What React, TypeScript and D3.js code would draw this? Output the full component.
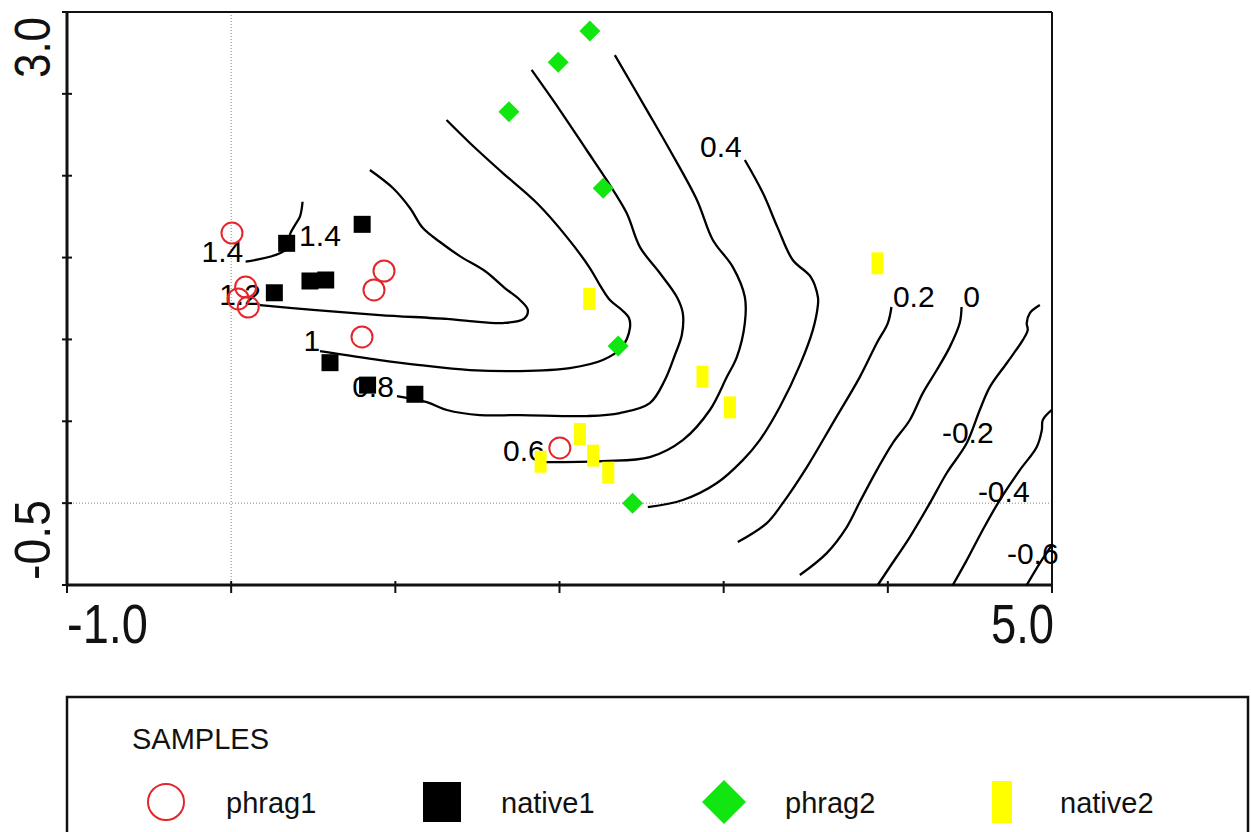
import React, { useEffect, useRef } from "react";
import * as d3 from "d3";

const width = 1251;
const height = 832;
const font = "'Liberation Sans', Arial, Helvetica, sans-serif";

// sample scores [axis1, axis2]
const phrag1 = [
  [0.005, 1.65], [0.088, 1.32], [0.043, 1.247], [0.104, 1.198],
  [0.931, 1.418], [0.87, 1.302], [0.797, 1.015], [2.002, 0.337],
];
const native1 = [
  [0.338, 1.587], [0.798, 1.703], [0.263, 1.285], [0.48, 1.357],
  [0.576, 1.363], [0.602, 0.858], [0.831, 0.721], [1.119, 0.665],
];
const phrag2 = [
  [2.185, 2.884], [1.992, 2.693], [1.692, 2.391], [2.266, 1.923],
  [2.357, 0.96], [2.445, -0.001],
];
const native2 = [
  [2.181, 1.247], [2.871, 0.772], [3.038, 0.585], [2.124, 0.422],
  [2.205, 0.29], [2.297, 0.186], [1.885, 0.253], [3.937, 1.465],
];

// isolines (traced)
const iso14 = [[0.088, 1.475], [0.297, 1.526], [0.368, 1.587], [0.358, 1.638], [0.389, 1.699], [0.419, 1.75], [0.435, 1.841]];
const iso12 = [
  [0.845, 2.035], [0.985, 1.925], [1.089, 1.803], [1.168, 1.68], [1.272, 1.595], [1.393, 1.509],
  [1.546, 1.418], [1.667, 1.314], [1.759, 1.241], [1.807, 1.18], [1.783, 1.125], [1.655, 1.1],
  [1.454, 1.112], [1.314, 1.125], [0.906, 1.149], [0.498, 1.18], [0.175, 1.21],
];
const iso10 = [
  [1.312, 2.34], [1.454, 2.2], [1.655, 2.016], [1.862, 1.833], [2.045, 1.625], [2.185, 1.436],
  [2.246, 1.332], [2.307, 1.241], [2.38, 1.18], [2.423, 1.131], [2.429, 1.07], [2.38, 0.953],
  [2.264, 0.874], [2.063, 0.825], [1.759, 0.807], [1.454, 0.813], [1.15, 0.843], [0.906, 0.874], [0.541, 0.929],
];
const iso08 = [
  [1.83, 2.646], [2.002, 2.401], [2.165, 2.157], [2.287, 1.974], [2.409, 1.772], [2.49, 1.564],
  [2.611, 1.406], [2.715, 1.259], [2.751, 1.161], [2.745, 1.027], [2.703, 0.905], [2.642, 0.752],
  [2.55, 0.611], [2.368, 0.55], [2.167, 0.532], [1.759, 0.538], [1.515, 0.538], [1.314, 0.569],
  [1.192, 0.617], [1.01, 0.654],
];
const iso06 = [
  [2.337, 2.737], [2.532, 2.401], [2.672, 2.157], [2.837, 1.852], [2.934, 1.607], [3.056, 1.442],
  [3.129, 1.259], [3.129, 1.1], [3.08, 0.892], [3.019, 0.77], [2.916, 0.569], [2.751, 0.385],
  [2.55, 0.281], [2.264, 0.257], [1.911, 0.251],
];
const iso04 = [
  [3.129, 2.096], [3.239, 1.894], [3.33, 1.68], [3.421, 1.485], [3.531, 1.381], [3.574, 1.259],
  [3.574, 1.21], [3.543, 1.057], [3.464, 0.843], [3.342, 0.587], [3.22, 0.385], [3.117, 0.263],
  [2.959, 0.123], [2.751, 0.019], [2.538, -0.024],
];
const iso02 = [
  [4.022, 1.198], [4.0, 1.1], [3.933, 0.978], [3.829, 0.77], [3.665, 0.489], [3.507, 0.22],
  [3.36, 0.0], [3.263, -0.122], [3.086, -0.238],
];
const iso00 = [
  [4.449, 1.198], [4.438, 1.1], [4.377, 0.953], [4.298, 0.813], [4.213, 0.672], [4.134, 0.508],
  [4.03, 0.367], [3.933, 0.202], [3.829, 0.007], [3.75, -0.146], [3.628, -0.305], [3.464, -0.439],
];
const isoM02 = [
  [4.926, 1.21], [4.865, 1.161], [4.846, 1.1], [4.852, 1.057], [4.822, 0.996], [4.725, 0.856],
  [4.621, 0.709], [4.56, 0.569], [4.481, 0.367], [4.359, 0.184], [4.256, 0.0], [4.134, -0.207],
  [4.012, -0.39], [3.939, -0.5],
];
const isoM04 = [
  [4.999, 0.569], [4.944, 0.508], [4.938, 0.446], [4.907, 0.343], [4.804, 0.202], [4.682, 0.019],
  [4.578, -0.164], [4.481, -0.348], [4.396, -0.5],
];
const isoM06 = [[4.846, -0.5], [4.926, -0.366], [4.999, -0.256]];

const isolines = [iso14, iso12, iso10, iso08, iso06, iso04, iso02, iso00, isoM02, isoM04, isoM06];

// isoline labels [x, y, text]
const isoLabels: [number, number, string][] = [
  [-0.053, 1.536, "1.4"], [0.541, 1.638, "1.4"], [0.054, 1.277, "1.2"], [0.492, 0.996, "1"],
  [0.864, 0.715, "0.8"], [1.783, 0.321, "0.6"], [2.983, 2.181, "0.4"], [4.158, 1.265, "0.2"],
  [4.51, 1.265, "0"], [4.487, 0.431, "-0.2"], [4.706, 0.074, "-0.4"], [4.883, -0.305, "-0.6"],
];

const xTicks = [-1, 0, 1, 2, 3, 4, 5];
const yTicks = [-0.5, 0, 0.5, 1, 1.5, 2, 2.5, 3];
const legendNames = ["phrag1", "native1", "phrag2", "native2"];

const App = () => {
  const ref = useRef<SVGSVGElement>(null);

  useEffect(() => {
    const svg = d3.select(ref.current);
    svg.selectAll("*").remove();

    const x = d3.scaleLinear().domain([-1, 5]).range([67, 1052]);
    const y = d3.scaleLinear().domain([-0.5, 3.0]).range([585, 12]);

    // zero lines
    svg.append("line")
      .attr("x1", x(0)).attr("x2", x(0)).attr("y1", y(3)).attr("y2", y(-0.5))
      .attr("stroke", "#888").attr("stroke-width", 1).attr("stroke-dasharray", "1,2");
    svg.append("line")
      .attr("x1", x(-1)).attr("x2", x(5)).attr("y1", y(0)).attr("y2", y(0))
      .attr("stroke", "#888").attr("stroke-width", 1).attr("stroke-dasharray", "1,2");

    // frame
    svg.append("line").attr("x1", 62).attr("x2", x(5)).attr("y1", y(3)).attr("y2", y(3))
      .attr("stroke", "#111").attr("stroke-width", 2);
    svg.append("line").attr("x1", x(5)).attr("x2", x(5)).attr("y1", y(3)).attr("y2", y(-0.5))
      .attr("stroke", "#111").attr("stroke-width", 2);
    svg.append("line").attr("x1", x(-1)).attr("x2", x(-1)).attr("y1", y(3)).attr("y2", y(-0.5) + 1)
      .attr("stroke", "#111").attr("stroke-width", 3);
    svg.append("line").attr("x1", x(-1)).attr("x2", x(5) + 1).attr("y1", y(-0.5)).attr("y2", y(-0.5))
      .attr("stroke", "#111").attr("stroke-width", 3);

    // ticks
    svg.selectAll(".ytick").data(yTicks).join("line")
      .attr("x1", x(-1) - 5).attr("x2", x(-1) + 5)
      .attr("y1", (d) => y(d)).attr("y2", (d) => y(d))
      .attr("stroke", "#111").attr("stroke-width", 2);
    svg.selectAll(".xtick").data(xTicks).join("line")
      .attr("x1", (d) => x(d)).attr("x2", (d) => x(d))
      .attr("y1", y(-0.5) - 4).attr("y2", y(-0.5) + 8)
      .attr("stroke", "#111").attr("stroke-width", 2);

    // axis end labels
    const big = svg.append("g").style("font-family", font).attr("fill", "#111");
    big.append("text").attr("x", x(-1)).attr("y", 643).style("font-size", "55px")
      .attr("textLength", 81).attr("lengthAdjust", "spacingAndGlyphs").text("-1.0");
    big.append("text").attr("x", x(5) + 2).attr("y", 643).attr("text-anchor", "end").style("font-size", "55px")
      .attr("textLength", 63).attr("lengthAdjust", "spacingAndGlyphs").text("5.0");
    big.append("text").attr("transform", `translate(50, ${y(3) + 5}) rotate(-90)`)
      .attr("text-anchor", "end").style("font-size", "50px")
      .attr("textLength", 61).attr("lengthAdjust", "spacingAndGlyphs").text("3.0");
    big.append("text").attr("transform", `translate(50, ${y(-0.5) - 5}) rotate(-90)`)
      .style("font-size", "50px")
      .attr("textLength", 80).attr("lengthAdjust", "spacingAndGlyphs").text("-0.5");

    // isolines
    const line = d3.line<number[]>()
      .x((d) => x(d[0]))
      .y((d) => y(d[1]))
      .curve(d3.curveCatmullRom.alpha(0.5));
    svg.append("g").selectAll("path").data(isolines).join("path")
      .attr("d", (d) => line(d))
      .attr("fill", "none").attr("stroke", "#000").attr("stroke-width", 2.3);

    svg.append("g").selectAll("text").data(isoLabels).join("text")
      .attr("x", (d) => x(d[0])).attr("y", (d) => y(d[1]))
      .attr("dy", "0.36em").attr("text-anchor", "middle")
      .style("font-family", font).style("font-size", "30px").attr("fill", "#000")
      .text((d) => d[2]);

    // samples
    const pts = svg.append("g");
    pts.selectAll(".n2").data(native2).join("rect")
      .attr("x", (d) => x(d[0]) - 6).attr("y", (d) => y(d[1]) - 11)
      .attr("width", 12).attr("height", 22).attr("fill", "#ffff00");
    pts.selectAll(".n1").data(native1).join("rect")
      .attr("x", (d) => x(d[0]) - 8.5).attr("y", (d) => y(d[1]) - 8.5)
      .attr("width", 17).attr("height", 17).attr("fill", "#000");
    pts.selectAll(".p2").data(phrag2).join("path")
      .attr("d", (d) => {
        const cx = x(d[0]), cy = y(d[1]);
        return `M${cx},${cy - 10.5}L${cx + 10.5},${cy}L${cx},${cy + 10.5}L${cx - 10.5},${cy}Z`;
      })
      .attr("fill", "#11e611");
    pts.selectAll(".p1").data(phrag1).join("circle")
      .attr("cx", (d) => x(d[0])).attr("cy", (d) => y(d[1])).attr("r", 10.5)
      .attr("fill", "none").attr("stroke", "#e3262b").attr("stroke-width", 2);

    // legend
    const lg = svg.append("g");
    lg.append("rect").attr("x", 67).attr("y", 697).attr("width", 1181).attr("height", 145)
      .attr("fill", "none").attr("stroke", "#111").attr("stroke-width", 2.5);
    lg.append("text").attr("x", 132).attr("y", 749)
      .style("font-family", font).style("font-size", "29px").attr("fill", "#111").text("SAMPLES");

    const symX = [166, 442, 724, 1002];
    const textX = [226, 501, 785, 1060];
    const cy = 802;
    lg.append("circle").attr("cx", symX[0]).attr("cy", cy).attr("r", 18)
      .attr("fill", "none").attr("stroke", "#e3262b").attr("stroke-width", 2);
    lg.append("rect").attr("x", symX[1] - 19).attr("y", cy - 20).attr("width", 38).attr("height", 40).attr("fill", "#000");
    lg.append("path")
      .attr("d", `M${symX[2]},${cy - 22}L${symX[2] + 22},${cy}L${symX[2]},${cy + 22}L${symX[2] - 22},${cy}Z`)
      .attr("fill", "#11e611");
    lg.append("rect").attr("x", symX[3] - 10).attr("y", cy - 21).attr("width", 20).attr("height", 42).attr("fill", "#ffff00");
    lg.selectAll(".lt").data(legendNames).join("text")
      .attr("x", (d, i) => textX[i]).attr("y", 813)
      .style("font-family", font).style("font-size", "29px").attr("fill", "#111")
      .text((d) => d);
  }, []);

  return (
    <svg
      ref={ref}
      width={width}
      height={height}
      style={{ position: "absolute", left: 0, top: 0, background: "#fff" }}
    />
  );
};

export default App;
